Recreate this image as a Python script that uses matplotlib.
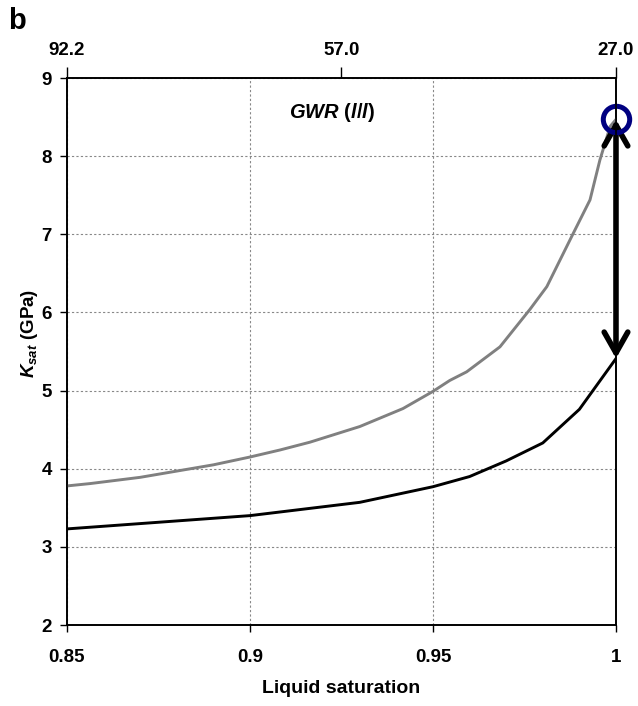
import numpy as np
import matplotlib
matplotlib.use('Agg')
import matplotlib.pyplot as plt

plt.rcParams['font.family'] = 'Liberation Sans'
plt.rcParams['font.weight'] = 'bold'
plt.rcParams['mathtext.fontset'] = 'custom'
plt.rcParams['mathtext.it'] = 'Liberation Sans:bold:italic'
plt.rcParams['mathtext.rm'] = 'Liberation Sans:bold'

# gray curve (upper)
sl_gray = [0.85, 0.8563, 0.87, 0.89, 0.90, 0.9082, 0.9164, 0.93, 0.9418, 0.95, 0.9546,
           0.9592, 0.9683, 0.9765, 0.9811, 0.9883, 0.9929, 0.9956, 0.9984, 1.0]
k_gray = [3.78, 3.81, 3.89, 4.05, 4.15, 4.24, 4.34, 4.54, 4.77, 4.99, 5.13,
          5.24, 5.56, 6.04, 6.33, 7.01, 7.44, 7.95, 8.38, 8.47]

# black curve (lower)
sl_black = [0.85, 0.90, 0.93, 0.95, 0.96, 0.97, 0.98, 0.99, 1.0]
k_black = [3.23, 3.40, 3.57, 3.77, 3.90, 4.10, 4.33, 4.76, 5.41]

x_ticks = [0.85, 0.9, 0.95, 1.0]
x_labels = ['0.85', '0.9', '0.95', '1']
gwr_pos = [0.85, 0.925, 1.0]
gwr_labels = ['92.2', '57.0', '27.0']

fig = plt.figure(figsize=(6.38, 7.06), dpi=100)
ax = fig.add_axes([0.105, 0.1147, 0.8605, 0.7748])

ax.grid(True, color='#888888', linestyle=(0, (2, 2)), linewidth=0.8)
ax.plot(sl_gray, k_gray, color='#808080', lw=2.1, zorder=3)
ax.plot(sl_black, k_black, color='black', lw=2.1, zorder=3)

ax.plot([sl_gray[-1]], [k_gray[-1]], 'o', ms=19, mfc='none', mec='#000080', mew=3.6, zorder=5,
        clip_on=False)
ax.annotate('', xy=(sl_black[-1], k_black[-1]), xytext=(sl_gray[-1], k_gray[-1]),
            arrowprops=dict(arrowstyle='<->,head_length=1.5,head_width=0.85', lw=4,
                            color='black', shrinkA=0, shrinkB=0), zorder=4)

ax.set_xlim(0.85, 1.0)
ax.set_ylim(2, 9)
ax.set_xticks(x_ticks)
ax.set_xticklabels(x_labels)
ax.set_yticks(range(2, 10))
ax.tick_params(axis='both', labelsize=13.5, direction='out', length=5, width=1, pad=12)
ax.tick_params(axis='y', pad=6)
for s in ax.spines.values():
    s.set_linewidth(1.2)

ax.set_xlabel('Liquid saturation', fontsize=14, fontweight='bold')
ax.xaxis.set_label_coords(0.5, -0.1)
ax.set_ylabel(r'$K_{sat}$ (GPa)', fontsize=13.5, fontweight='bold')
ax.yaxis.set_label_coords(-0.05, 0.534)

ax2 = ax.twiny()
ax2.set_xlim(0.85, 1.0)
ax2.set_xticks(gwr_pos)
ax2.set_xticklabels(gwr_labels)
ax2.tick_params(axis='x', labelsize=13.5, direction='out', length=8, width=1, pad=6)
for s in ax2.spines.values():
    s.set_linewidth(1.2)

ax.text(0.9224, 8.56, r'$GWR$ $(l/l)$', fontsize=14.5, ha='center', va='center')
fig.text(0.027, 0.970, 'b', fontsize=21, fontweight='bold', ha='center', va='center')

fig.savefig('out.png', dpi=100)
